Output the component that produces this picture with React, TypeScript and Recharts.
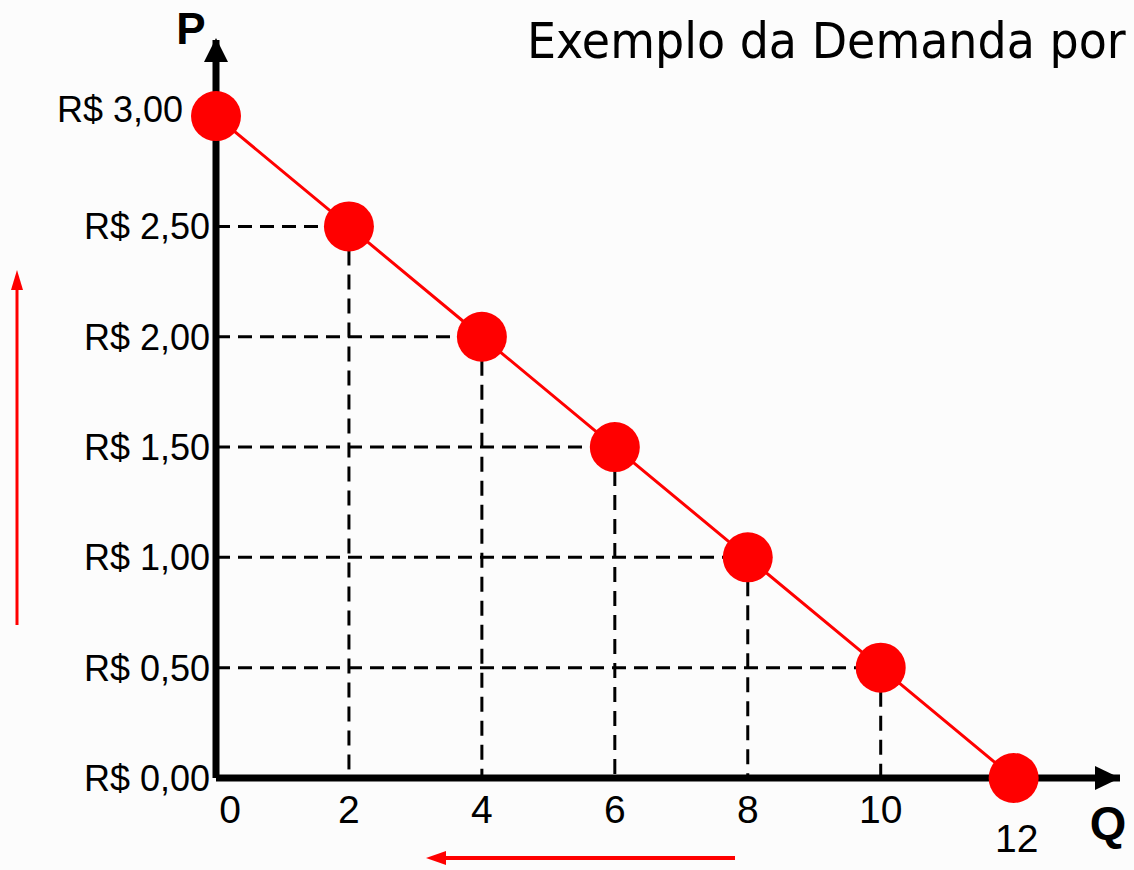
import React from "react";
import { LineChart, Line, XAxis, YAxis, ReferenceLine, ReferenceDot } from "recharts";

// Curva de demanda: quantidade x preço
const quantities = [0, 2, 4, 6, 8, 10, 12];
const prices = [3.0, 2.5, 2.0, 1.5, 1.0, 0.5, 0.0];
const priceTicks = [0, 0.5, 1, 1.5, 2, 2.5, 3];
const quantityTicks = [0, 2, 4, 6, 8, 10, 12];
const title = "Exemplo da Demanda por";

const Y_MAX = 3.345;
const X_MAX = 13.6;

const data = quantities.map((q, i) => ({ q, p: prices[i] }));

const fmtPrice = (v: number) => "R$ " + v.toFixed(2).replace(".", ",");

const TICK_FONT = "'Liberation Sans', Arial, sans-serif";

function PriceTick(props: any) {
  const { x, y, payload } = props;
  const top = payload.value === 3;
  return (
    <text x={top ? x - 25 : x + 2} y={top ? y + 6 : y + 13} textAnchor="end" fontFamily={TICK_FONT} fontSize={36} fill="#000">
      {fmtPrice(payload.value)}
    </text>
  );
}

function QtyTick(props: any) {
  const { x, y, payload } = props;
  const v = payload.value;
  const dx = v === 0 ? 14 : v === 12 ? 3 : 0;
  const dy = v === 12 ? 66 : 37;
  return (
    <text x={x + dx} y={y + dy} textAnchor="middle" fontFamily={TICK_FONT} fontSize={39} fill="#000">
      {v}
    </text>
  );
}

const ArrowUp = (props: any) => {
  const { cx, cy } = props;
  return (
    <g>
      <path d={`M${cx},${cy - 2} L${cx + 12},${cy + 22} L${cx - 12},${cy + 22} Z`} fill="#000" />
      <text x={cx - 25} y={cy + 4} textAnchor="middle" fontFamily={TICK_FONT} fontWeight="bold" fontSize={44} fill="#000">
        P
      </text>
    </g>
  );
};

const ArrowRight = (props: any) => {
  const { cx, cy } = props;
  return (
    <g>
      <path d={`M${cx},${cy} L${cx - 25},${cy + 12} L${cx - 25},${cy - 12} Z`} fill="#000" />
      <text x={cx - 12} y={cy + 61} textAnchor="middle" fontFamily={TICK_FONT} fontWeight="bold" fontSize={47} fill="#000">
        Q
      </text>
    </g>
  );
};

export default function App() {
  const dashed = data.filter((d) => d.q > 0 && d.p > 0);

  return (
    <div
      style={{
        position: "absolute",
        left: 0,
        top: 0,
        width: 1134,
        height: 870,
        overflow: "hidden",
        background: "#fcfcfc",
      }}
    >
      {/* título e setas vermelhas decorativas */}
      <svg width={1134} height={870} style={{ position: "absolute", left: 0, top: 0 }}>
        <text
          transform="translate(527,58) scale(1,1.1)"
          fontFamily="'DejaVu Sans', Verdana, sans-serif"
          fontSize={46}
          fill="#000"
        >
          {title}
        </text>
        <line x1={17} y1={625} x2={17} y2={285} stroke="#ff0000" strokeWidth={3} />
        <path d="M17,270 L23,290 L11,290 Z" fill="#ff0000" />
        <line x1={735} y1={858} x2={442} y2={858} stroke="#ff0000" strokeWidth={4} />
        <path d="M426,858 L446,851 L446,865 Z" fill="#ff0000" />
      </svg>

      <div style={{ position: "absolute", left: 0, top: 0 }}>
        <LineChart width={1134} height={870} data={data} margin={{ top: 40, right: 14, bottom: 22, left: 0 }}>
          <XAxis
            type="number"
            dataKey="q"
            domain={[0, X_MAX]}
            ticks={quantityTicks}
            interval={0}
            tickLine={false}
            axisLine={{ stroke: "#000", strokeWidth: 7 }}
            tick={<QtyTick />}
            height={70}
          />
          <YAxis
            type="number"
            dataKey="p"
            domain={[0, Y_MAX]}
            ticks={priceTicks}
            interval={0}
            tickLine={false}
            axisLine={{ stroke: "#000", strokeWidth: 7 }}
            tick={<PriceTick />}
            width={216}
          />
          {dashed.map((d) => (
            <ReferenceLine
              key={"h" + d.q}
              segment={[
                { x: 0, y: d.p },
                { x: d.q, y: d.p },
              ]}
              stroke="#000"
              strokeWidth={3}
              strokeDasharray="14 8"
            />
          ))}
          {dashed.map((d) => (
            <ReferenceLine
              key={"v" + d.q}
              segment={[
                { x: d.q, y: d.p },
                { x: d.q, y: 0 },
              ]}
              stroke="#000"
              strokeWidth={3}
              strokeDasharray="15 9"
            />
          ))}
          <ReferenceDot x={0} y={Y_MAX} r={1} ifOverflow="visible" shape={<ArrowUp />} />
          <ReferenceDot x={X_MAX} y={0} r={1} ifOverflow="visible" shape={<ArrowRight />} />
          <Line
            type="linear"
            dataKey="p"
            stroke="#ff0000"
            strokeWidth={3}
            dot={{ r: 25, fill: "#ff0000", stroke: "none" }}
            activeDot={false}
            isAnimationActive={false}
          />
        </LineChart>
      </div>
    </div>
  );
}
